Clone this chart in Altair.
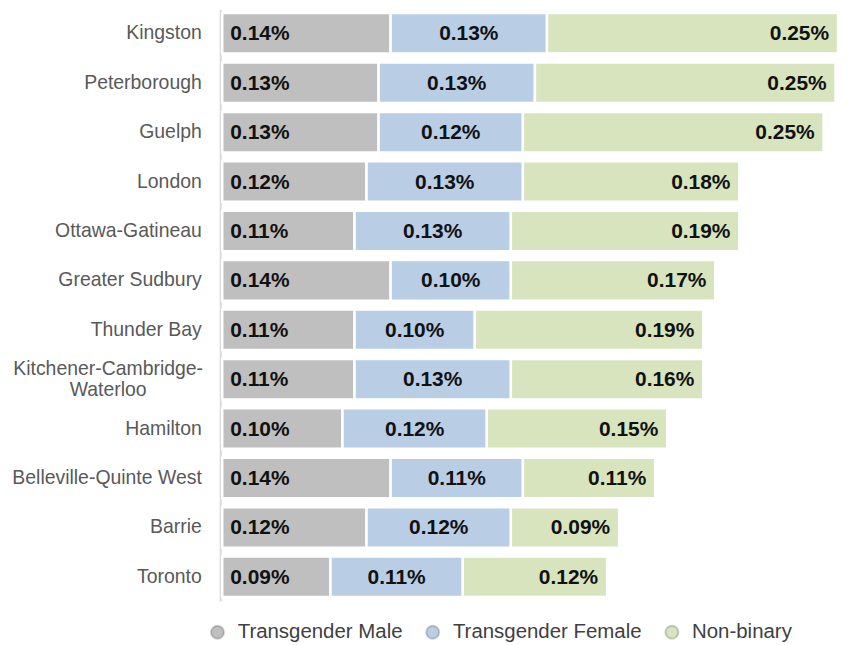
import altair as alt
import pandas as pd

cities = [
    "Kingston", "Peterborough", "Guelph", "London", "Ottawa-Gatineau",
    "Greater Sudbury", "Thunder Bay", "Kitchener-Cambridge-Waterloo",
    "Hamilton", "Belleville-Quinte West", "Barrie", "Toronto",
]
trans_male = [0.14, 0.13, 0.13, 0.12, 0.11, 0.14, 0.11, 0.11, 0.10, 0.14, 0.12, 0.09]
trans_female = [0.13, 0.13, 0.12, 0.13, 0.13, 0.10, 0.10, 0.13, 0.12, 0.11, 0.12, 0.11]
non_binary = [0.25, 0.25, 0.25, 0.18, 0.19, 0.17, 0.19, 0.16, 0.15, 0.11, 0.09, 0.12]

series = ["Transgender Male", "Transgender Female", "Non-binary"]
colors = ["#bfbfbf", "#b9cde5", "#d7e4bd"]

rows = []
for i, c in enumerate(cities):
    start = 0.0
    for k, (s, vals) in enumerate(zip(series, [trans_male, trans_female, non_binary])):
        v = vals[i]
        rows.append({
            "city": c, "series": s, "order": k, "value": v,
            "start": start, "end": start + v, "mid": start + v / 2,
            "label": f"{v:.2f}%",
        })
        start += v
df = pd.DataFrame(rows)

FONT = "Liberation Sans"
KCW = "Kitchener-Cambridge-Waterloo"
is_kcw = f"datum.value == '{KCW}'"

y_enc = alt.Y(
    "city:N", sort=cities,
    scale=alt.Scale(paddingInner=0.18, paddingOuter=0.08),
    axis=alt.Axis(
        title=None, ticks=False, grid=False,
        domainColor="#d9d9d9", domainWidth=2, offset=2,
        labelFont=FONT, labelFontSize=19.5, labelColor="#595959",
        labelLineHeight=21, labelLimit=400,
        labelExpr=f"{is_kcw} ? ['Kitchener-Cambridge-', 'Waterloo'] : datum.label",
        labelAlign={"condition": {"test": is_kcw, "value": "center"}, "value": "right"},
        labelPadding={"condition": {"test": is_kcw, "value": 113}, "value": 19},
        labelOffset={"condition": {"test": is_kcw, "value": -10.5}, "value": 0},
    ),
)
# the reference image is cut off at its right edge: values past the plot are clamped
x_scale = alt.Scale(domain=[0, 0.512], nice=False, zero=True, clamp=True)

base = alt.Chart(df)

bars = base.mark_bar(stroke="white", strokeWidth=2.5).encode(
    y=y_enc,
    x=alt.X("start:Q", scale=x_scale, axis=None),
    x2="end:Q",
    color=alt.Color(
        "series:N",
        scale=alt.Scale(domain=series, range=colors),
        legend=alt.Legend(
            title=None, orient="none", direction="horizontal",
            legendX=-15, legendY=615,
            symbolType="circle", symbolSize=170,
            symbolStrokeColor="rgba(0,0,0,0.18)", symbolStrokeWidth=2,
            symbolOpacity=1,
            labelFont=FONT, labelFontSize=20.5, labelColor="#404040",
            labelOffset=10, columnPadding=18, labelLimit=0,
        ),
    ),
    order=alt.Order("order:Q"),
)

text_common = dict(font=FONT, fontSize=21, fontWeight="bold", color="#111111", baseline="middle", dy=1)

t_male = base.transform_filter(alt.datum.order == 0).mark_text(align="left", dx=8, **text_common).encode(
    y=alt.Y("city:N", sort=cities), x=alt.X("start:Q", scale=x_scale), text="label:N")
t_female = base.transform_filter(alt.datum.order == 1).mark_text(align="center", **text_common).encode(
    y=alt.Y("city:N", sort=cities), x=alt.X("mid:Q", scale=x_scale), text="label:N")
t_nb = base.transform_filter(alt.datum.order == 2).mark_text(align="right", dx=-9, **text_common).encode(
    y=alt.Y("city:N", sort=cities), x=alt.X("end:Q", scale=x_scale), text="label:N")

chart = alt.layer(bars, t_male, t_female, t_nb).properties(
    width=618, height=594, background="white",
    padding={"left": 3, "top": 0, "right": 0, "bottom": 0},
).configure_view(strokeWidth=0)

chart.save("out.html", embed_options={"renderer": "svg", "actions": False})
